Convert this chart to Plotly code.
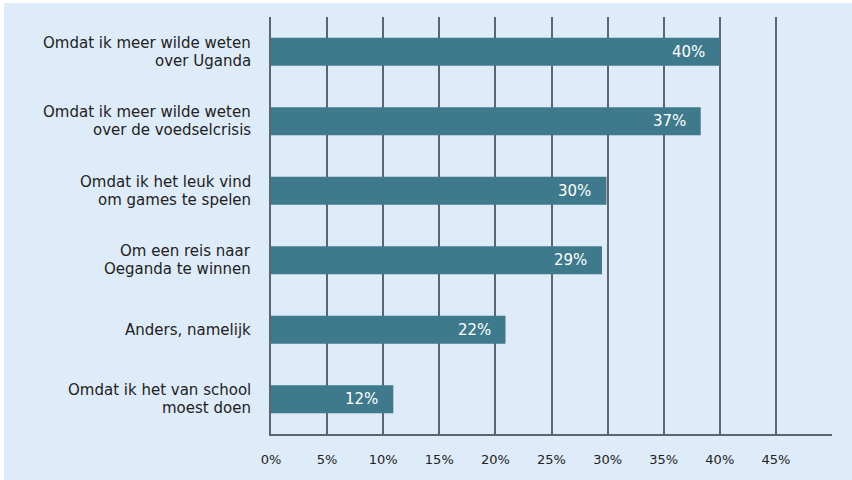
import plotly.graph_objects as go

categories = [
    "Omdat ik meer wilde weten<br>over Uganda",
    "Omdat ik meer wilde weten<br>over de voedselcrisis",
    "Omdat ik het leuk vind<br>om games te spelen",
    "Om een reis naar<br>Oeganda te winnen",
    "Anders, namelijk",
    "Omdat ik het van school<br>moest doen",
]
bar_lengths = [40.0, 38.3, 29.9, 29.5, 20.9, 10.9]
value_labels = ["40%", "37%", "30%", "29%", "22%", "12%"]
tick_values = [0, 5, 10, 15, 20, 25, 30, 35, 40, 45]
tick_labels = ["0%", "5%", "10%", "15%", "20%", "25%", "30%", "35%", "40%", "45%"]

BG = "#deebf8"
BAR = "#3e7a8c"
GRID = "#5e656d"
FONT = "DejaVu Sans"
TXT = "#222222"

fig = go.Figure()
fig.add_trace(go.Bar(
    y=categories, x=bar_lengths, orientation="h",
    marker=dict(color=BAR, line=dict(width=0)),
    hoverinfo="skip",
))
for c, v, t in zip(categories, bar_lengths, value_labels):
    fig.add_annotation(x=v, y=c, text=t, showarrow=False, xanchor="right",
                       xshift=-14, borderpad=0,
                       font=dict(family=FONT, size=15, color="white"))

# category labels, one annotation per line for tight line spacing
LINE_GAP = 17.6
for c in categories:
    lines = c.split("<br>")
    n = len(lines)
    for i, ln in enumerate(lines):
        shift = ((n - 1) / 2 - i) * LINE_GAP
        fig.add_annotation(x=0, xref="paper", y=c, yref="y", text=ln,
                           showarrow=False, xanchor="right", xshift=-19,
                           yshift=shift, align="right", borderpad=0,
                           font=dict(family=FONT, size=15, color=TXT))

# light-blue panel (image has thin white strip on top and left)
fig.add_shape(type="rect", xref="paper", yref="paper",
              x0=(4 - 271) / 561, x1=(860 - 271) / 561,
              y0=(434 - 490) / 417, y1=(434 - 3) / 417,
              fillcolor=BG, line=dict(width=0), layer="below")

fig.update_layout(
    width=852, height=480,
    margin=dict(l=271, r=20, t=17, b=46),
    paper_bgcolor="white", plot_bgcolor="rgba(0,0,0,0)",
    bargap=0.6, showlegend=False,
    font=dict(family=FONT, size=13, color=TXT),
    xaxis=dict(range=[0, 50], tickvals=tick_values, ticktext=tick_labels,
               showgrid=True, gridcolor=GRID, gridwidth=1.5,
               showline=True, linecolor=GRID, linewidth=1.5,
               zeroline=False, ticks="", ticklabelstandoff=13,
               tickfont=dict(family=FONT, size=13, color=TXT),
               fixedrange=True),
    yaxis=dict(categoryorder="array", categoryarray=categories, autorange="reversed",
               showgrid=False, showline=True, linecolor=GRID, linewidth=1.5,
               ticks="", showticklabels=False,
               fixedrange=True),
)

fig.write_html("out.html")
